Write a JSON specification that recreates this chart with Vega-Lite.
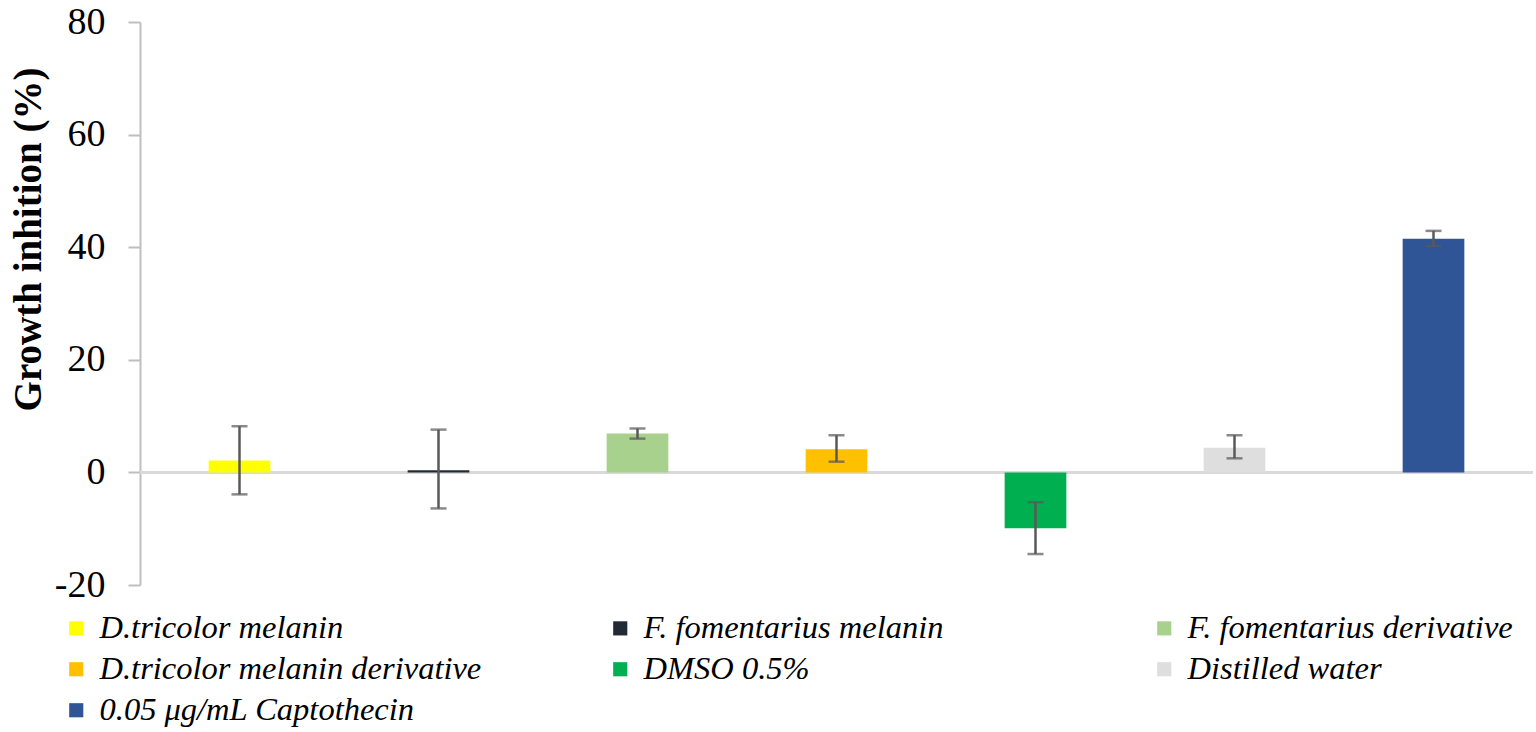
{
  "$schema": "https://vega.github.io/schema/vega-lite/v6.json",
  "description": "Growth inhibition bar chart with error bars",
  "autosize": {"type": "none"},
  "width": 1393,
  "height": 563,
  "padding": {"left": 140, "top": 22, "right": 3, "bottom": 147},
  "background": "white",
  "config": {
    "view": {"stroke": null},
    "font": "Liberation Serif"
  },
  "data": {
    "values": [
      {"sample": "D.tricolor melanin", "value": 2.1, "lo": -3.9, "hi": 8.2},
      {"sample": "F. fomentarius melanin", "value": 0.4, "lo": -6.4, "hi": 7.6},
      {"sample": "F. fomentarius derivative", "value": 6.9, "lo": 6.0, "hi": 7.8},
      {"sample": "D.tricolor melanin derivative", "value": 4.1, "lo": 1.9, "hi": 6.6},
      {"sample": "DMSO 0.5%", "value": -9.9, "lo": -14.5, "hi": -5.3},
      {"sample": "Distilled water", "value": 4.4, "lo": 2.5, "hi": 6.6},
      {"sample": "0.05 μg/mL Captothecin", "value": 41.5, "lo": 40.2, "hi": 42.9}
    ]
  },
  "encoding": {
    "x": {
      "field": "sample",
      "type": "nominal",
      "sort": null,
      "axis": null,
      "scale": {"paddingInner": 0.69, "paddingOuter": 0.345}
    }
  },
  "layer": [
    {
      "mark": {"type": "rule", "color": "#d9d9d9", "strokeWidth": 2.5},
      "encoding": {"x": null, "y": {"datum": 0, "type": "quantitative"}}
    },
    {
      "mark": {"type": "bar"},
      "encoding": {
        "y": {
          "field": "value",
          "type": "quantitative",
          "title": "Growth inhition (%)",
          "scale": {"domain": [-20, 80], "nice": false},
          "axis": {
            "title": "Growth inhition (%)",
            "values": [-20, 0, 20, 40, 60, 80],
            "labelExpr": "replace(datum.label, '−', '-')",
            "grid": false,
            "domainColor": "#bfbfbf",
            "domainWidth": 2,
            "tickColor": "#bfbfbf",
            "tickWidth": 2,
            "tickSize": 12,
            "labelPadding": 23,
            "labelFont": "Liberation Serif",
            "labelFontSize": 38,
            "labelColor": "black",
            "titleFont": "Liberation Serif",
            "titleFontSize": 39,
            "titleFontWeight": "bold",
            "titleColor": "black",
            "titlePadding": 6,
            "titleY": 217
          }
        },
        "color": {
          "field": "sample",
          "type": "nominal",
          "sort": null,
          "scale": {
            "range": ["#ffff00", "#222a35", "#a9d18e", "#ffc000", "#00b050", "#dedede", "#2f5597"]
          },
          "legend": {
            "title": null,
            "orient": "none",
            "legendX": -80,
            "legendY": 590,
            "columns": 3,
            "direction": "horizontal",
            "gridAlign": "all",
            "columnPadding": 122,
            "rowPadding": 8,
            "symbolType": "square",
            "symbolSize": 200,
            "symbolStrokeWidth": 0,
            "labelOffset": 7,
            "labelFont": "Liberation Serif",
            "labelFontSize": 32.5,
            "labelFontStyle": "italic",
            "labelColor": "black",
            "labelLimit": 600,
            "padding": 0
          }
        }
      }
    },
    {
      "mark": {"type": "errorbar", "ticks": {"size": 16}, "color": "#595959", "thickness": 2.5},
      "encoding": {
        "y": {"field": "lo", "type": "quantitative", "title": "Growth inhition (%)"},
        "y2": {"field": "hi"}
      }
    }
  ]
}
